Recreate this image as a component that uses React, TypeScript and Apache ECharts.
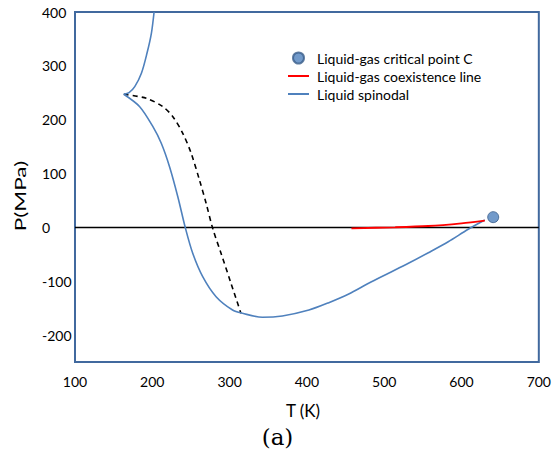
import React, { useEffect, useRef } from "react";
import * as echarts from "echarts";

// T (K), P (MPa)
const upperSpinodal: number[][] = [
  [163.1, 247.2], [169.9, 250.1], [177.3, 261.3], [185.9, 286.2],
  [193.1, 323.3], [198.8, 360.4], [202.3, 400],
];
const lowerSpinodal: number[][] = [
  [163.1, 247.2], [183.7, 224.1], [200.8, 187.0], [211.6, 156.2],
  [222.3, 112.7], [233.0, 57.0], [242.9, -1.7], [252.3, -48.1],
  [265.2, -91.5], [282.5, -128.7], [303.8, -153.4], [316.7, -159.5],
  [342.5, -167.0], [368.2, -164.5], [402.6, -153.4], [428.3, -139.8],
  [454.1, -123.7], [479.8, -103.8], [505.6, -85.2], [531.3, -66.7],
  [557.1, -47.0], [582.8, -26.6], [608.6, -3.5], [630.1, 13.7],
];
const dashedLine: number[][] = [
  [163.1, 247.2], [192.3, 239.7], [213.7, 224.1], [226.6, 205.6],
  [239.4, 174.7], [250.3, 137.5], [261.0, 88.0], [269.6, 44.8],
  [278.1, -1.7], [288.9, -48.1], [301.8, -103.8], [314.6, -159.5],
];
const coexistence: number[][] = [
  [457.6, -1.7], [514.2, 0.2], [557.1, 2.6], [600.0, 7.6], [630.1, 12.5],
];
const criticalPoint: number[][] = [[641, 19]];
const zeroLine: number[][] = [[100, 0], [700, 0]];

const xMin = 100, xMax = 700, xStep = 100;
const yMin = -250, yMax = 400, yStep = 50;

const NAME_C = "Liquid-gas critical point C";
const NAME_COEX = "Liquid-gas coexistence line";
const NAME_SPIN = "Liquid spinodal";

const FONT = "Lato";
const LINE_ICON = "path://M0,0 L21,0 L21,2 L0,2 Z";

export default function App() {
  const ref = useRef<HTMLDivElement>(null);
  useEffect(() => {
    document.body.style.margin = "0";
    if (!ref.current) return;
    const chart = echarts.init(ref.current, undefined, { renderer: "svg" });
    const blue = "#4f81bd";
    chart.setOption({
      animation: false,
      grid: {
        left: 75, top: 12, width: 466, height: 350,
        show: true, borderColor: "#41699e", borderWidth: 2,
      },
      xAxis: {
        type: "value", min: xMin, max: xMax, interval: xStep,
        axisLine: { show: false }, axisTick: { show: false }, splitLine: { show: false },
        axisLabel: { margin: 12, fontFamily: FONT, fontSize: 14, color: "#000" },
      },
      yAxis: {
        type: "value", min: yMin, max: yMax, interval: yStep,
        axisLine: { show: false }, axisTick: { show: false }, splitLine: { show: false },
        axisLabel: {
          margin: 33, align: "left", fontFamily: FONT, fontSize: 14, color: "#000",
          formatter: (v: number) => (v % 100 === 0 ? String(v) : ""),
        },
      },
      legend: {
        data: [
          { name: NAME_C, icon: "circle" },
          { name: NAME_COEX, icon: LINE_ICON },
          { name: NAME_SPIN, icon: LINE_ICON },
        ],
        orient: "vertical", left: 288, top: 50, padding: 0,
        itemWidth: 21, itemHeight: 11, itemGap: 2,
        selectedMode: false,
        textStyle: { fontFamily: FONT, fontSize: 14, lineHeight: 16, color: "#000", padding: [0, 0, 0, 3] },
      },
      series: [
        {
          type: "line", name: "zero", data: zeroLine, symbol: "none",
          lineStyle: { color: "#000", width: 1.5 }, silent: true,
        },
        {
          type: "line", name: "metastable", data: dashedLine, symbol: "none", smooth: 0.3,
          lineStyle: { color: "#000", width: 1.6, type: [5, 4] },
        },
        {
          type: "line", name: NAME_SPIN, data: upperSpinodal, symbol: "none", smooth: 0.3,
          itemStyle: { color: blue }, lineStyle: { color: blue, width: 1.6 },
        },
        {
          type: "line", name: NAME_SPIN, data: lowerSpinodal, symbol: "none", smooth: 0.3,
          itemStyle: { color: blue }, lineStyle: { color: blue, width: 1.6 },
        },
        {
          type: "line", name: NAME_COEX, data: coexistence, symbol: "none", smooth: 0.3,
          itemStyle: { color: "#ff0000" }, lineStyle: { color: "#ff0000", width: 1.8 },
        },
        {
          type: "scatter", name: NAME_C, data: criticalPoint, symbol: "circle", symbolSize: 11,
          itemStyle: { color: blue, borderColor: "#385d8a", borderWidth: 1 },
        },
      ],
      graphic: [
        {
          type: "text", x: 20, y: 196, rotation: Math.PI / 2, scaleX: 1.5,
          style: { text: "P(MPa)", fontFamily: FONT, fontSize: 15, fill: "#000", align: "center", verticalAlign: "middle" },
        },
        {
          type: "text", x: 303, y: 410,
          style: { text: "T (K)", fontFamily: FONT, fontSize: 17, fill: "#000", align: "center", verticalAlign: "middle" },
        },
        {
          type: "text", x: 277.5, y: 437,
          style: { text: "(a)", fontFamily: "DejaVu Serif", fontSize: 23, fill: "#000", align: "center", verticalAlign: "middle" },
        },
      ],
    });
    return () => chart.dispose();
  }, []);
  return <div ref={ref} style={{ width: 554, height: 450 }} />;
}
